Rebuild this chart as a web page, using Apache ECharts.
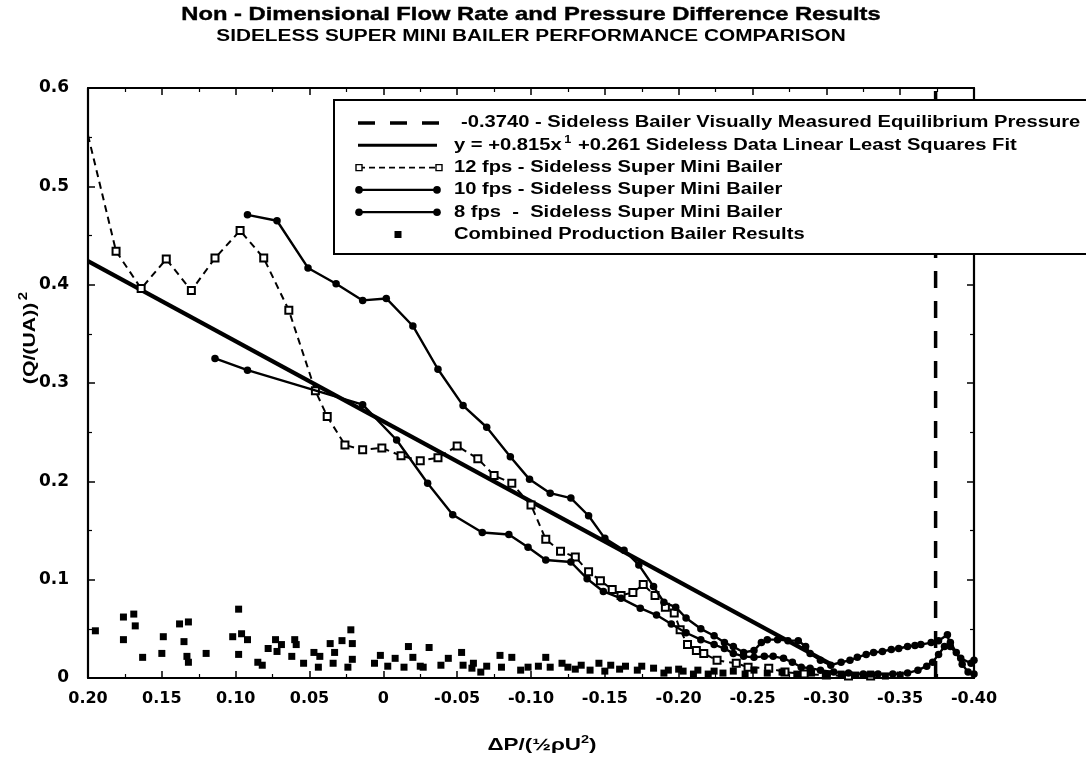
<!DOCTYPE html>
<html>
<head>
<meta charset="utf-8">
<script src="https://cdn.jsdelivr.net/npm/echarts@6/dist/echarts.min.js"></script>
<style>
html, body { margin: 0; padding: 0; background: #fff; }
#chart { width: 1086px; height: 766px; }
</style>
</head>
<body>
<div id="chart"></div>
<script>
// Axis ticks and their printed labels
const xTickValues = [0.2, 0.15, 0.1, 0.05, 0, -0.05, -0.1, -0.15, -0.2, -0.25, -0.3, -0.35, -0.4];
const xTickLabels = ['0.20', '0.15', '0.10', '0.05', '0', '-0.05', '-0.10', '-0.15', '-0.20', '-0.25', '-0.30', '-0.35', '-0.40'];
const yTickValues = [0, 0.1, 0.2, 0.3, 0.4, 0.5, 0.6];
const yTickLabels = ['0', '0.1', '0.2', '0.3', '0.4', '0.5', '0.6'];

// Equilibrium pressure and least-squares fit (y = slope*x + intercept)
const equilibriumPressure = -0.374;
const fitSlope = 0.815;
const fitIntercept = 0.261;
const fitRange = [0.2, -0.303];

// 12 fps - sideless super mini bailer  [dP, (Q/UA)^2]; first pair is where the trace leaves the frame
const fps12 = [
  [0.200, 0.552], [0.181, 0.434], [0.164, 0.396], [0.147, 0.426], [0.130, 0.394],
  [0.114, 0.427], [0.097, 0.455], [0.081, 0.427], [0.064, 0.374], [0.046, 0.292],
  [0.038, 0.266], [0.026, 0.237], [0.014, 0.232], [0.001, 0.234], [-0.012, 0.226],
  [-0.025, 0.221], [-0.037, 0.224], [-0.050, 0.236], [-0.064, 0.223], [-0.075, 0.206],
  [-0.087, 0.198], [-0.100, 0.176], [-0.110, 0.141], [-0.120, 0.129], [-0.130, 0.123],
  [-0.139, 0.108], [-0.147, 0.099], [-0.155, 0.090], [-0.161, 0.084], [-0.169, 0.087],
  [-0.176, 0.095], [-0.184, 0.084], [-0.191, 0.072], [-0.197, 0.066], [-0.201, 0.049],
  [-0.206, 0.034], [-0.212, 0.028], [-0.217, 0.025], [-0.226, 0.018], [-0.239, 0.015],
  [-0.247, 0.011], [-0.261, 0.010], [-0.272, 0.006], [-0.285, 0.004], [-0.300, 0.003],
  [-0.315, 0.002], [-0.330, 0.002]
];

// 10 fps - sideless super mini bailer
const fps10 = [
  [0.092, 0.471], [0.072, 0.465], [0.051, 0.417], [0.032, 0.401], [0.014, 0.384],
  [-0.002, 0.386], [-0.020, 0.358], [-0.037, 0.314], [-0.054, 0.277], [-0.070, 0.255],
  [-0.086, 0.225], [-0.099, 0.202], [-0.113, 0.188], [-0.127, 0.183], [-0.139, 0.165],
  [-0.150, 0.142], [-0.163, 0.130], [-0.173, 0.115], [-0.183, 0.093], [-0.190, 0.077],
  [-0.198, 0.072], [-0.205, 0.061], [-0.215, 0.050], [-0.224, 0.043], [-0.231, 0.036],
  [-0.237, 0.032], [-0.244, 0.026], [-0.251, 0.028], [-0.256, 0.036], [-0.260, 0.039],
  [-0.267, 0.039], [-0.274, 0.038], [-0.281, 0.038], [-0.286, 0.032], [-0.289, 0.025],
  [-0.296, 0.018], [-0.303, 0.013], [-0.310, 0.016], [-0.316, 0.018], [-0.321, 0.021],
  [-0.327, 0.024], [-0.332, 0.026], [-0.338, 0.027], [-0.344, 0.029], [-0.349, 0.030],
  [-0.355, 0.032], [-0.360, 0.033], [-0.364, 0.034], [-0.371, 0.036], [-0.376, 0.038],
  [-0.382, 0.044], [-0.384, 0.032], [-0.391, 0.020], [-0.398, 0.015], [-0.400, 0.018]
];

// 8 fps - sideless super mini bailer
const fps8 = [
  [0.114, 0.325], [0.092, 0.313], [0.014, 0.278], [-0.009, 0.242], [-0.030, 0.198],
  [-0.047, 0.166], [-0.067, 0.148], [-0.085, 0.146], [-0.098, 0.133], [-0.110, 0.120],
  [-0.127, 0.118], [-0.138, 0.101], [-0.149, 0.088], [-0.161, 0.081], [-0.174, 0.071],
  [-0.185, 0.064], [-0.195, 0.055], [-0.205, 0.046], [-0.215, 0.039], [-0.224, 0.034],
  [-0.231, 0.030], [-0.237, 0.025], [-0.244, 0.022], [-0.251, 0.021], [-0.258, 0.022],
  [-0.264, 0.022], [-0.271, 0.020], [-0.277, 0.016], [-0.283, 0.011], [-0.289, 0.010],
  [-0.296, 0.008], [-0.305, 0.006], [-0.315, 0.005], [-0.325, 0.004], [-0.335, 0.004],
  [-0.345, 0.004], [-0.355, 0.005], [-0.362, 0.008], [-0.368, 0.012], [-0.372, 0.016],
  [-0.376, 0.024], [-0.380, 0.032], [-0.384, 0.036], [-0.388, 0.026], [-0.392, 0.014],
  [-0.396, 0.006], [-0.400, 0.004]
];

// Combined production bailer results
const production = [
  [0.195, 0.048], [0.176, 0.062], [0.176, 0.039], [0.169, 0.065], [0.168, 0.053],
  [0.163, 0.021], [0.150, 0.025], [0.149, 0.042], [0.138, 0.055], [0.132, 0.057],
  [0.135, 0.037], [0.133, 0.022], [0.132, 0.016], [0.120, 0.025], [0.098, 0.070],
  [0.102, 0.042], [0.096, 0.045], [0.092, 0.039], [0.098, 0.024], [0.085, 0.016],
  [0.082, 0.013], [0.078, 0.030], [0.073, 0.039], [0.069, 0.034], [0.072, 0.027],
  [0.060, 0.039], [0.059, 0.034], [0.062, 0.022], [0.054, 0.015], [0.047, 0.026],
  [0.043, 0.022], [0.044, 0.011], [0.036, 0.035], [0.033, 0.026], [0.034, 0.015],
  [0.028, 0.038], [0.022, 0.049], [0.021, 0.035], [0.021, 0.019], [0.024, 0.011],
  [0.006, 0.015], [0.002, 0.023], [-0.003, 0.012], [-0.008, 0.020], [-0.014, 0.011],
  [-0.017, 0.032], [-0.020, 0.021], [-0.025, 0.012], [-0.031, 0.031], [-0.027, 0.011],
  [-0.039, 0.013], [-0.044, 0.020], [-0.053, 0.026], [-0.054, 0.013], [-0.061, 0.015],
  [-0.066, 0.006], [-0.079, 0.023], [-0.080, 0.011], [-0.087, 0.021], [-0.093, 0.008],
  [-0.098, 0.011], [-0.110, 0.021], [-0.113, 0.011], [-0.121, 0.015], [-0.125, 0.011],
  [-0.134, 0.013], [-0.140, 0.008], [-0.146, 0.015], [-0.154, 0.013], [-0.164, 0.012],
  [-0.172, 0.008], [-0.183, 0.010], [-0.193, 0.008], [-0.203, 0.007], [-0.213, 0.008],
  [-0.224, 0.007], [-0.237, 0.007], [-0.251, 0.008], [-0.060, 0.010], [-0.070, 0.012],
  [-0.105, 0.012], [-0.130, 0.009], [-0.150, 0.007], [-0.160, 0.009], [-0.175, 0.012],
  [-0.190, 0.005], [-0.200, 0.009], [-0.210, 0.004], [-0.220, 0.004], [-0.230, 0.005],
  [-0.245, 0.004], [-0.260, 0.005], [-0.270, 0.006], [-0.280, 0.004], [-0.290, 0.005],
  [-0.300, 0.003], [-0.310, 0.004], [-0.320, 0.003], [-0.330, 0.004], [-0.340, 0.002],
  [-0.350, 0.003]
];

const legendLabels = [
  '-0.3740 - Sideless Bailer Visually Measured Equilibrium Pressure',
  '+0.261 Sideless Data Linear Least Squares Fit',
  '12 fps - Sideless Super Mini Bailer',
  '10 fps - Sideless Super Mini Bailer',
  '8 fps  -  Sideless Super Mini Bailer',
  'Combined Production Bailer Results'
];

const fitLine = fitRange.map(x => [x, fitSlope * x + fitIntercept]);
const equilibriumLine = [[equilibriumPressure, 0], [equilibriumPressure, 0.6]];
// the 12 fps trace enters from the frame edge without a marker
const fps12Items = fps12.map((p, i) => (i === 0 ? { value: p, symbol: 'none' } : p));

function lookupLabel(values, labels, v) {
  const i = values.findIndex(t => Math.abs(t - v) < 1e-9);
  return i >= 0 ? labels[i] : '';
}

const AXIS_FONT = 'DejaVu Sans';
const TEXT_FONT = '"Liberation Sans", Arial, sans-serif';
const TEXT_STRETCH = 1.26;

function frameAxis(extra) {
  return Object.assign({
    type: 'value',
    axisLine: { show: true, onZero: false, lineStyle: { color: '#000', width: 2.2 } },
    axisTick: { show: true, inside: true, length: 7, lineStyle: { color: '#000', width: 1.5 } },
    minorTick: { show: true, splitNumber: 2, length: 4, lineStyle: { color: '#000', width: 1.2 } },
    splitLine: { show: false },
    minorSplitLine: { show: false }
  }, extra);
}

const xBase = { min: -0.4, max: 0.2, interval: 0.05, inverse: true };
const yBase = { min: 0, max: 0.6, interval: 0.1 };

// Boxed key
const legendX = 334, legendTop = 100, rowGap = 22.3, firstRow = 123;
const rowY = i => firstRow + i * rowGap;
const superRich = {
  a: { fontFamily: TEXT_FONT, fontWeight: 'bold', fontSize: 16, lineHeight: 20, color: '#000' },
  s: { fontFamily: TEXT_FONT, fontWeight: 'bold', fontSize: 10, lineHeight: 20, verticalAlign: 'top', color: '#000', padding: [0, 1, 0, 2] }
};
const legendChildren = [
  { type: 'rect', shape: { x: legendX, y: legendTop, width: 800, height: 154 },
    style: { fill: '#fff', stroke: '#000', lineWidth: 2 }, z: 100 },
  { type: 'line', shape: { x1: 358, y1: rowY(0), x2: 441, y2: rowY(0) },
    style: { stroke: '#000', lineWidth: 3.5, lineDash: [17, 15] }, z: 101 },
  { type: 'line', shape: { x1: 358, y1: rowY(1), x2: 437, y2: rowY(1) },
    style: { stroke: '#000', lineWidth: 3 }, z: 101 },
  { type: 'line', shape: { x1: 359, y1: rowY(2), x2: 439, y2: rowY(2) },
    style: { stroke: '#000', lineWidth: 1.8, lineDash: [6, 4] }, z: 101 },
  { type: 'rect', shape: { x: 356, y: rowY(2) - 3, width: 6, height: 6 },
    style: { fill: '#fff', stroke: '#000', lineWidth: 1.4 }, z: 102 },
  { type: 'rect', shape: { x: 436, y: rowY(2) - 3, width: 6, height: 6 },
    style: { fill: '#fff', stroke: '#000', lineWidth: 1.4 }, z: 102 },
  { type: 'line', shape: { x1: 359, y1: rowY(3), x2: 437, y2: rowY(3) },
    style: { stroke: '#000', lineWidth: 2.2 }, z: 101 },
  { type: 'circle', shape: { cx: 359, cy: rowY(3), r: 3.8 }, style: { fill: '#000' }, z: 102 },
  { type: 'circle', shape: { cx: 437, cy: rowY(3), r: 3.8 }, style: { fill: '#000' }, z: 102 },
  { type: 'line', shape: { x1: 359, y1: rowY(4), x2: 437, y2: rowY(4) },
    style: { stroke: '#000', lineWidth: 2.2 }, z: 101 },
  { type: 'circle', shape: { cx: 359, cy: rowY(4), r: 3.8 }, style: { fill: '#000' }, z: 102 },
  { type: 'circle', shape: { cx: 437, cy: rowY(4), r: 3.8 }, style: { fill: '#000' }, z: 102 },
  { type: 'rect', shape: { x: 394.5, y: rowY(5) - 3.5, width: 7, height: 7 },
    style: { fill: '#000' }, z: 102 },
  { type: 'text', x: 461, y: rowY(0), z: 103, scaleX: TEXT_STRETCH,
    style: { text: legendLabels[0], font: 'bold 16px ' + TEXT_FONT, fill: '#000',
      textAlign: 'left', textVerticalAlign: 'middle' } },
  { type: 'text', x: 454, y: rowY(1), z: 103, scaleX: TEXT_STRETCH,
    style: { text: '{a|y = +' + fitSlope.toFixed(3) + 'x}{s|1}{a| ' + legendLabels[1] + '}',
      fill: '#000', textAlign: 'left', textVerticalAlign: 'middle', rich: superRich } }
];
for (let i = 2; i < 6; i++) {
  legendChildren.push({ type: 'text', x: 454, y: rowY(i), z: 103, scaleX: TEXT_STRETCH,
    style: { text: legendLabels[i], font: 'bold 16px ' + TEXT_FONT, fill: '#000',
      textAlign: 'left', textVerticalAlign: 'middle' } });
}

const chart = echarts.init(document.getElementById('chart'), null, { renderer: 'canvas' });

chart.setOption({
  backgroundColor: '#fff',
  animation: false,
  grid: { left: 88, right: 112, top: 88, bottom: 88, containLabel: false, outerBoundsMode: 'none' },
  xAxis: [
    frameAxis(Object.assign({}, xBase, {
      position: 'bottom',
      axisLabel: {
        margin: 13, color: '#000', fontFamily: AXIS_FONT, fontWeight: 'bold', fontSize: 16,
        formatter: v => lookupLabel(xTickValues, xTickLabels, v)
      }
    })),
    frameAxis(Object.assign({}, xBase, { position: 'top', axisLabel: { show: false } }))
  ],
  yAxis: [
    frameAxis(Object.assign({}, yBase, {
      position: 'left',
      axisLabel: {
        margin: 19, color: '#000', fontFamily: AXIS_FONT, fontWeight: 'bold', fontSize: 17,
        formatter: v => lookupLabel(yTickValues, yTickLabels, v)
      }
    })),
    frameAxis(Object.assign({}, yBase, { position: 'right', axisLabel: { show: false } }))
  ],
  graphic: [
    { type: 'text', x: 531, y: 15, scaleX: 1.25, z: 50,
      style: { text: 'Non - Dimensional Flow Rate and Pressure Difference Results',
        font: 'bold 19px ' + TEXT_FONT, fill: '#000', stroke: '#000', lineWidth: 0.4,
        textAlign: 'center', textVerticalAlign: 'middle' } },
    { type: 'text', x: 531, y: 37, scaleX: 1.3, z: 50,
      style: { text: 'SIDELESS SUPER MINI BAILER PERFORMANCE COMPARISON',
        font: 'bold 16px ' + TEXT_FONT, fill: '#000',
        textAlign: 'center', textVerticalAlign: 'middle' } },
    // axis titles
    { type: 'text', x: 542, y: 745, scaleX: 1.32, z: 50,
      style: { text: '{a|ΔP/(½ρU}{s|2}{a|)}', textAlign: 'center', textVerticalAlign: 'middle',
        rich: {
          a: { fontFamily: TEXT_FONT, fontWeight: 'bold', fontSize: 17, lineHeight: 22, color: '#000' },
          s: { fontFamily: TEXT_FONT, fontWeight: 'bold', fontSize: 11, lineHeight: 22, verticalAlign: 'top', color: '#000' }
        } } },
    { type: 'text', x: 30, y: 338, rotation: Math.PI / 2, scaleX: 1.25, z: 50,
      style: { text: '{a|(Q/(UA))}{s|2}', textAlign: 'center', textVerticalAlign: 'middle',
        rich: {
          a: { fontFamily: TEXT_FONT, fontWeight: 'bold', fontSize: 17, lineHeight: 24, color: '#000' },
          s: { fontFamily: TEXT_FONT, fontWeight: 'bold', fontSize: 12, lineHeight: 24, verticalAlign: 'top', color: '#000', padding: [0, 0, 0, 2] }
        } } },
    { type: 'group', z: 100, children: legendChildren }
  ],
  series: [
    {
      name: 'Equilibrium', type: 'line', data: equilibriumLine, symbol: 'none', z: 3,
      lineStyle: { color: '#000', width: 3.5, type: [17, 13] }
    },
    {
      name: 'Fit', type: 'line', data: fitLine, symbol: 'none', z: 4,
      lineStyle: { color: '#000', width: 4.2 }
    },
    {
      name: '12 fps', type: 'line', data: fps12Items, symbol: 'emptyRect', symbolSize: 7, z: 5,
      lineStyle: { color: '#000', width: 2, type: [7, 5] },
      itemStyle: { color: '#000', borderWidth: 1.5, opacity: 1 }
    },
    {
      name: '10 fps', type: 'line', data: fps10, symbol: 'circle', symbolSize: 7.5, z: 6,
      lineStyle: { color: '#000', width: 2.4 }, itemStyle: { color: '#000', opacity: 1 }
    },
    {
      name: '8 fps', type: 'line', data: fps8, symbol: 'circle', symbolSize: 7.5, z: 6,
      lineStyle: { color: '#000', width: 2.4 }, itemStyle: { color: '#000', opacity: 1 }
    },
    {
      name: 'Production', type: 'scatter', data: production, symbol: 'rect', symbolSize: 7, z: 7,
      itemStyle: { color: '#000', opacity: 1 }
    }
  ]
});
</script>
</body>
</html>
